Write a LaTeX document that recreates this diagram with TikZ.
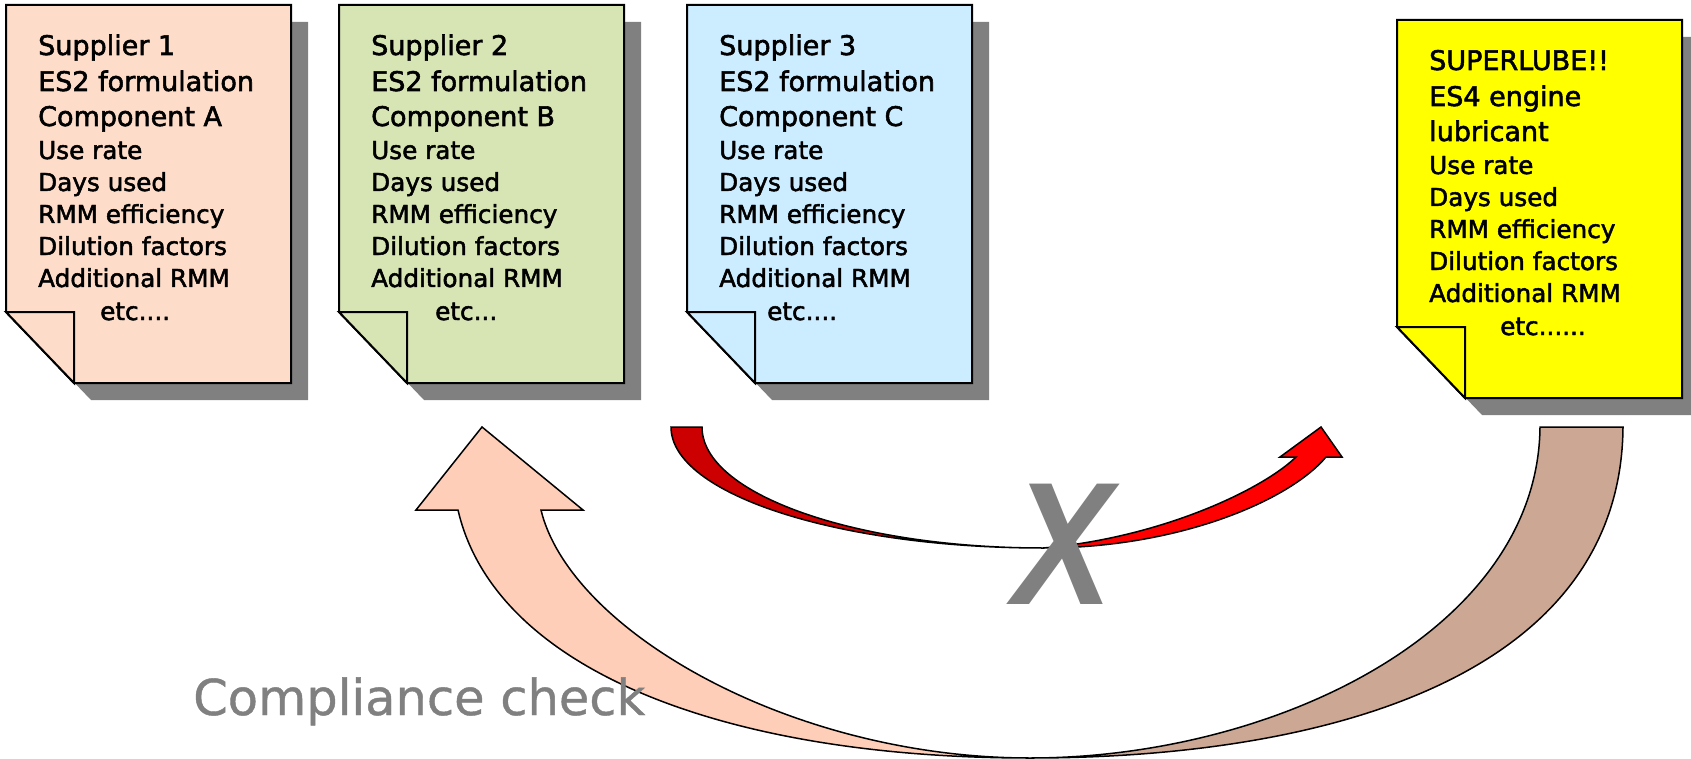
\documentclass[tikz,border=0pt]{standalone}
\usepackage{fontspec}
\setmainfont{DejaVu Sans}
\newfontfamily\docfont{DejaVu Sans}[FakeBold=2]
\newfontfamily\labelfont{DejaVu Sans}[FakeBold=0.8]
\newfontfamily\xfont{Liberation Sans}
\definecolor{shadowgray}{RGB}{128,128,128}
\definecolor{xgray}{RGB}{128,128,128}
\definecolor{pagepeach}{RGB}{253,221,202}
\definecolor{pagegreen}{RGB}{215,228,180}
\definecolor{pageblue}{RGB}{204,236,255}
\definecolor{pageyellow}{RGB}{255,255,0}
\definecolor{arrowpeach}{RGB}{255,206,184}
\definecolor{arrowtan}{RGB}{204,167,148}
\definecolor{arrowdarkred}{RGB}{204,0,0}
\definecolor{arrowred}{RGB}{255,0,0}
\tikzset{
  x=1pt, y=-1pt,
  pageline/.style={draw=black, line width=2pt, line join=miter},
  arrowline/.style={draw=black, line width=1.5pt, line join=miter},
  doctitle/.style={font=\docfont\fontsize{27}{32}\selectfont, inner sep=0pt, anchor=base west},
  docitem/.style={font=\docfont\fontsize{24.7}{30}\selectfont, inner sep=0pt, anchor=base west},
}
% #1 name, #2 x, #3 y, #4 fill, #5-#7 title lines, #8 etc indent, #9 etc text
\newcommand{\docpage}[9]{%
  \begin{scope}[shift={(#2,#3)}]
    \fill[shadowgray] (17,17) -- (302,17) -- (302,395) -- (85,395) -- (17,324) -- cycle;
    \draw[pageline, fill=#4] (0,0) -- (285,0) -- (285,378) -- (68,378) -- (0,307) -- cycle;
    \draw[pageline, fill=#4] (0,307) -- (68,307) -- (68,378) -- cycle;
    \node[doctitle] (#1-1) at (32,50) {#5};
    \node[doctitle] (#1-2) at (32,86) {#6};
    \node[doctitle] (#1-3) at (32,121) {#7};
    \node[docitem] (#1-4) at (32,154) {Use rate};
    \node[docitem] (#1-5) at (32,186) {Days used};
    \node[docitem] (#1-6) at (32,218) {RMM efficiency};
    \node[docitem] (#1-7) at (32,250) {Dilution factors};
    \node[docitem] (#1-8) at (32,282) {Additional RMM};
    \node[docitem] (#1-9) at (#8,315) {#9};
  \end{scope}}
\begin{document}
\begin{tikzpicture}
\useasboundingbox (0,0) rectangle (1691,759);
\fill[white] (0,0) rectangle (1691,759);

\docpage{sa}{6}{5}{pagepeach}{Supplier 1}{ES2 formulation}{Component A}{94}{etc....}
\docpage{sb}{339}{5}{pagegreen}{Supplier 2}{ES2 formulation}{Component B}{96}{etc...}
\docpage{sc}{687}{5}{pageblue}{Supplier 3}{ES2 formulation}{Component C}{80}{etc....}
\docpage{sl}{1397}{20}{pageyellow}{SUPERLUBE!!}{ES4 engine}{lubricant}{103}{etc......}

% big compliance arrow (right back part, then left front part with head)
\draw[arrowline, fill=arrowtan] (1540,427) -- (1623,427)
  .. controls (1621,675) and (1330,758) .. (1030,758)
  .. controls (1275,758) and (1538,630) .. (1540,427) -- cycle;
\draw[arrowline, fill=arrowpeach] (458,510) -- (416,510) -- (482,427) -- (583,510) -- (541,510)
  .. controls (570,630) and (790,758) .. (1030,758)
  .. controls (725,758) and (495,670) .. (458,510) -- cycle;

% red arrow
\draw[arrowline, fill=arrowdarkred] (671,427) -- (702,427)
  .. controls (702,494) and (855,548) .. (1043,548)
  .. controls (838,548) and (671,494) .. (671,427) -- cycle;
\draw[arrowline, fill=arrowred] (1043,548)
  .. controls (1180,548) and (1290,500) .. (1326,457)
  -- (1342,457) -- (1321,427) -- (1280,457) -- (1296,457)
  .. controls (1262,490) and (1160,538) .. (1043,548) -- cycle;

% cross
\node[text=xgray, inner sep=0pt, anchor=base] (cross) at (1063,604)
  {\xfont\fontsize{175}{175}\selectfont\bfseries\itshape\scalebox{0.85}[1]{X}};

% label
\node[text=xgray, inner sep=0pt, anchor=base west, font=\labelfont\fontsize{49.5}{50}\selectfont] (cc) at (193,715) {Compliance check};
\end{tikzpicture}
\end{document}
